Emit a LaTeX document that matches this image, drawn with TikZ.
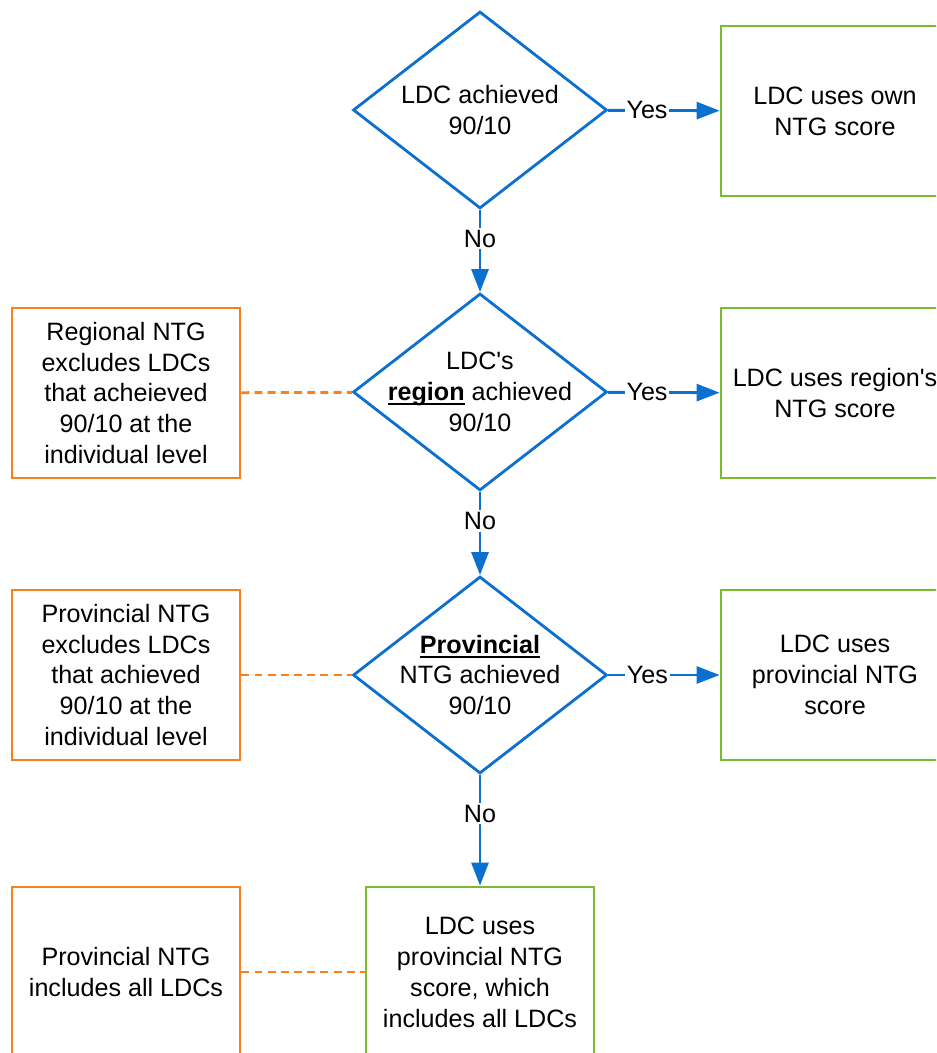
\documentclass[tikz,border=0pt]{standalone}
\usepackage{fontspec}
\setmainfont{Liberation Sans}
\usetikzlibrary{shapes.geometric,arrows.meta}

\definecolor{flowblue}{RGB}{12,112,208}
\definecolor{noteorange}{RGB}{250,128,28}
\definecolor{usegreen}{RGB}{122,188,48}

% bold word with a thick underline
\newcommand{\keyword}[1]{\setbox0\hbox{\textbf{#1}}\rlap{\rule[-2.7pt]{\wd0}{1.1pt}}\box0\relax}

\tikzset{
	decision/.style={draw=flowblue, diamond, line width=1.6pt, minimum width=5.08cm, minimum height=3.94cm, inner sep=-14pt, align=center},
	result/.style={draw=usegreen, rectangle, line width=1.6pt, minimum width=4.56cm, minimum height=3.4cm, align=center},
	note/.style={draw=noteorange, rectangle, line width=1.6pt, minimum width=4.56cm, minimum height=3.4cm, align=center},
	flow/.style={draw=flowblue, line width=1.6pt, -{Triangle[length=0.46cm,width=0.34cm]}},
	link/.style={draw=noteorange, line width=1.6pt, dash pattern=on 4.5pt off 3pt},
	answer/.style={fill=white, inner sep=1pt, pos=0.35}
}

\begin{document}
\begin{tikzpicture}[x=0.02cm, y=-0.02cm, font=\fontsize{14.3}{17.6}\selectfont]
				\useasboundingbox (0,0) rectangle (936,1053);
				\clip (0,0) rectangle (936,1053);
				
				\node (dec1) [decision] at (480,110) {LDC achieved\\90/10};
				\node (dec2) [decision] at (480,392) {LDC{\textquotesingle}s\\\keyword{region} achieved\\90/10};
				\node (dec3) [decision] at (480,675) {\keyword{Provincial}\\NTG achieved\\90/10};
				
				\node (use1) [result] at (835,111) {LDC uses own\\NTG score};
				\node (use2) [result] at (835,393) {LDC uses region{\textquotesingle}s\\NTG score};
				\node (use3) [result] at (835,675) {LDC uses\\provincial NTG\\score};
				\node (use4) [result] at (480,972) {LDC uses\\provincial NTG\\score, which\\includes all LDCs};
				
				\node (note2) [note] at (126,393) {Regional NTG\\excludes LDCs\\that acheieved\\90/10 at the\\individual level};
				\node (note3) [note] at (126,675) {Provincial NTG\\excludes LDCs\\that achieved\\90/10 at the\\individual level};
				\node (note4) [note] at (126,972) {Provincial NTG\\includes all LDCs};
				
				% Arrows
				\draw[flow] (dec1) -- node[answer] {Yes} (use1);
				\draw[flow] (dec2) -- node[answer] {Yes} (use2);
				\draw[flow] (dec3) -- node[answer] {Yes} (use3);
				\draw[flow] (dec1) -- node[answer] {No} (dec2);
				\draw[flow] (dec2) -- node[answer] {No} (dec3);
				\draw[flow] (dec3) -- node[answer] {No} (use4);
				
				% Dashed links to the notes
				\draw[link] (note2) -- (dec2);
				\draw[link] (note3) -- (dec3);
				\draw[link] (note4) -- (use4);
				
			\end{tikzpicture}
\end{document}
